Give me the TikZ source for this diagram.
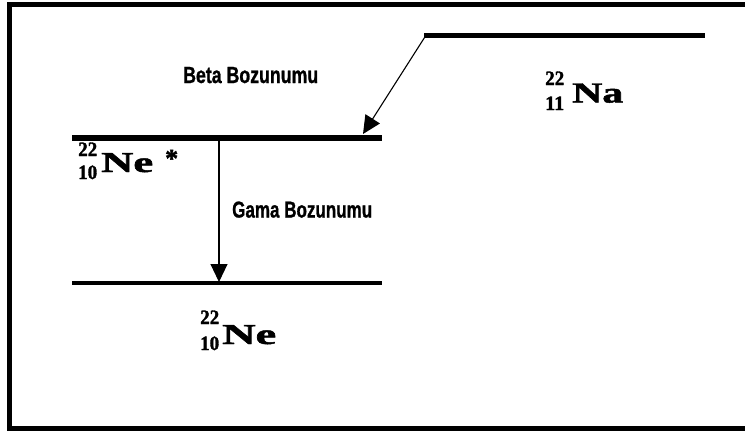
\documentclass[tikz,border=0pt]{standalone}
\usepackage{fontspec}
\setmainfont{Liberation Serif}[BoldFeatures={FakeBold=1.6}]
\newfontfamily\labelfont{Liberation Sans}[BoldFeatures={FakeBold=1.2}]
\usetikzlibrary{arrows.meta}

% isotope pieces: mass number, atomic number, element symbol
\newcommand{\massnum}[1]{\resizebox{19pt}{13.5pt}{\bfseries #1}}
\newcommand{\elemsym}[2]{\resizebox{#1}{19pt}{\bfseries #2}}

\begin{document}
\begin{tikzpicture}[x=1pt,y=-1pt,
  frameline/.style={line width=5pt, line join=miter},
  level/.style={line width=#1},
  decay/.style={line width=1.1pt, -{Triangle[length=18pt,width=17pt]}},
  txt/.style={inner sep=0pt, anchor=base west}
]
\useasboundingbox (0,0) rectangle (745,432);

% outer frame (open on the right)
\coordinate (fa) at (745,4.7);
\coordinate (fb) at (9.5,4.7);
\coordinate (fc) at (9.5,428);
\coordinate (fd) at (745,428);
\draw[frameline] (fa) -- (fb) -- (fc) -- (fd);

% energy levels
\coordinate (naL) at (424,35.5);
\coordinate (naR) at (705,35.5);
\coordinate (nexL) at (72,138);
\coordinate (nexR) at (382,138);
\coordinate (neL) at (72,283);
\coordinate (neR) at (382,283);
\draw[level=5pt] (naL) -- (naR);
\draw[level=6pt] (nexL) -- (nexR);
\draw[level=3.5pt] (neL) -- (neR);

% decays
\coordinate (betaS) at (425.5,36);
\coordinate (betaE) at (363,134);
\coordinate (gamS) at (219,141);
\coordinate (gamE) at (219,282);
\draw[decay] (betaS) -- (betaE);
\draw[decay] (gamS) -- (gamE);

\node[txt] (beta) at (183,83) {\labelfont\resizebox{135pt}{16pt}{\bfseries Beta Bozunumu}};
\node[txt] (gama) at (232,217.5) {\labelfont\resizebox{140pt}{16pt}{\bfseries Gama Bozunumu}};

% 22/11 Na
\node[txt] (naA) at (545,85) {\massnum{22}};
\node[txt] (naZ) at (545,110) {\massnum{11}};
\node[txt] (naS) at (572,102.5) {\elemsym{51pt}{Na}};

% 22/10 Ne*
\node[txt] (nexA) at (78,156) {\massnum{22}};
\node[txt] (nexZ) at (78,179) {\massnum{10}};
\node[txt] (nexS) at (101,172) {\elemsym{52pt}{Ne}};
\node[txt] (nexX) at (165,167) {\fontsize{26pt}{26pt}\selectfont\bfseries *};

% 22/10 Ne
\node[txt] (neA) at (200,324) {\massnum{22}};
\node[txt] (neZ) at (200,350) {\massnum{10}};
\node[txt] (neS) at (222,344) {\elemsym{54pt}{Ne}};
\end{tikzpicture}
\end{document}
